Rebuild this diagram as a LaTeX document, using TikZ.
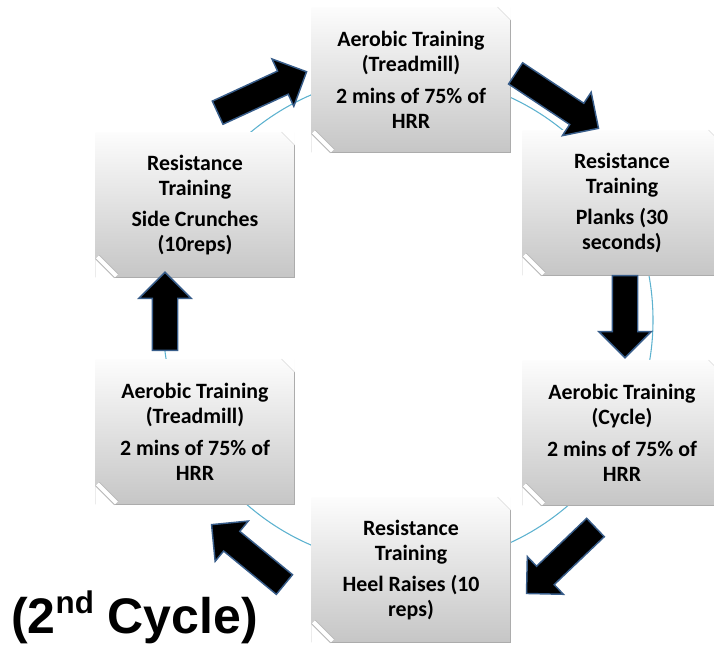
\documentclass[tikz,border=0pt]{standalone}
\usepackage{fontspec}
\setmainfont{Carlito}
\newfontfamily\titlefont{Liberation Sans}
\usetikzlibrary{shapes.arrows,calc}
\definecolor{ringblue}{RGB}{93,178,207}
\definecolor{arrowedge}{RGB}{56,93,138}

\tikzset{
  stepbox/.style={rectangle, minimum width=149pt, minimum height=109pt, inner sep=0pt,
    align=center, top color=gray!2, bottom color=gray!45,
    font=\bfseries\fontsize{16.4}{18.75}\selectfont},
  blockarrow/.style={single arrow, fill=black, draw=arrowedge, line width=1.1pt,
    inner xsep=0pt, inner ysep=9pt, single arrow head extend=10pt,
    single arrow tip angle=90, anchor=tail},
}
% block arrow from #2 (tail) to #3 (tip)
\newcommand\blockarrow[3]{%
  \path let \p1=($(#3)-(#2)$), \n1={veclen(\x1,\y1)}, \n2={atan2(\y1,\x1)} in
    node[blockarrow, rotate=\n2, minimum height=\n1] (#1) at (#2) {};
}

\begin{document}
\begin{tikzpicture}[x=0.75pt,y=-0.75pt]
        \useasboundingbox (0,0) rectangle (714,652);
        \def\xl{195}
        \def\xm{411}
        \def\xr{622}

        \draw[ringblue, line width=0.8pt] (408,320) circle (245);

        \node[stepbox] (aer1) at (\xm,80) {Aerobic Training\\(Treadmill)\\[5pt]2 mins of 75\% of\\HRR};
        \node[stepbox] (res1) at (\xr,203) {Resistance\\Training\\[5pt]Planks (30\\seconds)};
        \node[stepbox] (aer2) at (\xr,433) {Aerobic Training\\(Cycle)\\[5pt]2 mins of 75\% of\\HRR};
        \node[stepbox] (res2) at (\xm,570) {Resistance\\Training\\[5pt]Heel Raises (10\\reps)};
        \node[stepbox] (aer3) at (\xl,432) {Aerobic Training\\(Treadmill)\\[5pt]2 mins of 75\% of\\HRR};
        \node[stepbox] (res3) at (\xl,205) {Resistance\\Training\\[5pt]Side Crunches\\(10reps)};

        % folded corners
        \foreach \b in {aer1,res1,aer2,res2,aer3,res3}{
          \fill[white] ($(\b.south west)+(0,-19)$) -- (\b.south west) -- ($(\b.south west)+(19,0)$) -- cycle;
          \fill[white] ($(\b.north east)+(-13,0)$) -- (\b.north east) -- ($(\b.north east)+(0,13)$) -- cycle;
          \draw[gray!65, line width=0.8pt] ($(\b.north east)+(0,13)$) -- (\b.south east) -- ($(\b.south west)+(19,0)$);
          \draw[gray!30] ($(\b.north east)+(-13,0)$) -- ($(\b.north east)+(0,13)$);
          \draw[gray!55, line width=4.5pt] ($(\b.south west)+(2,-21)$) -- ($(\b.south west)+(21,-2)$);
          \draw[white, line width=3pt] ($(\b.south west)+(2,-21)$) -- ($(\b.south west)+(21,-2)$);
        }

        \coordinate (t1) at (217,113); \coordinate (h1) at (306,72);
        \coordinate (t2) at (515,73);  \coordinate (h2) at (598,128);
        \coordinate (t3) at (625,275); \coordinate (h3) at (625,357);
        \coordinate (t4) at (596,527); \coordinate (h4) at (527,593);
        \coordinate (t5) at (285,585); \coordinate (h5) at (212,525);
        \coordinate (t6) at (165,351); \coordinate (h6) at (165,273);
        \blockarrow{arr1}{t1}{h1}
        \blockarrow{arr2}{t2}{h2}
        \blockarrow{arr3}{t3}{h3}
        \blockarrow{arr4}{t4}{h4}
        \blockarrow{arr5}{t5}{h5}
        \blockarrow{arr6}{t6}{h6}

        \node[anchor=base west, inner sep=0pt, font=\titlefont\bfseries\fontsize{37.5}{42}\selectfont] (cyc) at (11,633)
          {(2\raisebox{15pt}{\fontsize{23.5}{24}\selectfont nd} Cycle)};
\end{tikzpicture}
\end{document}
